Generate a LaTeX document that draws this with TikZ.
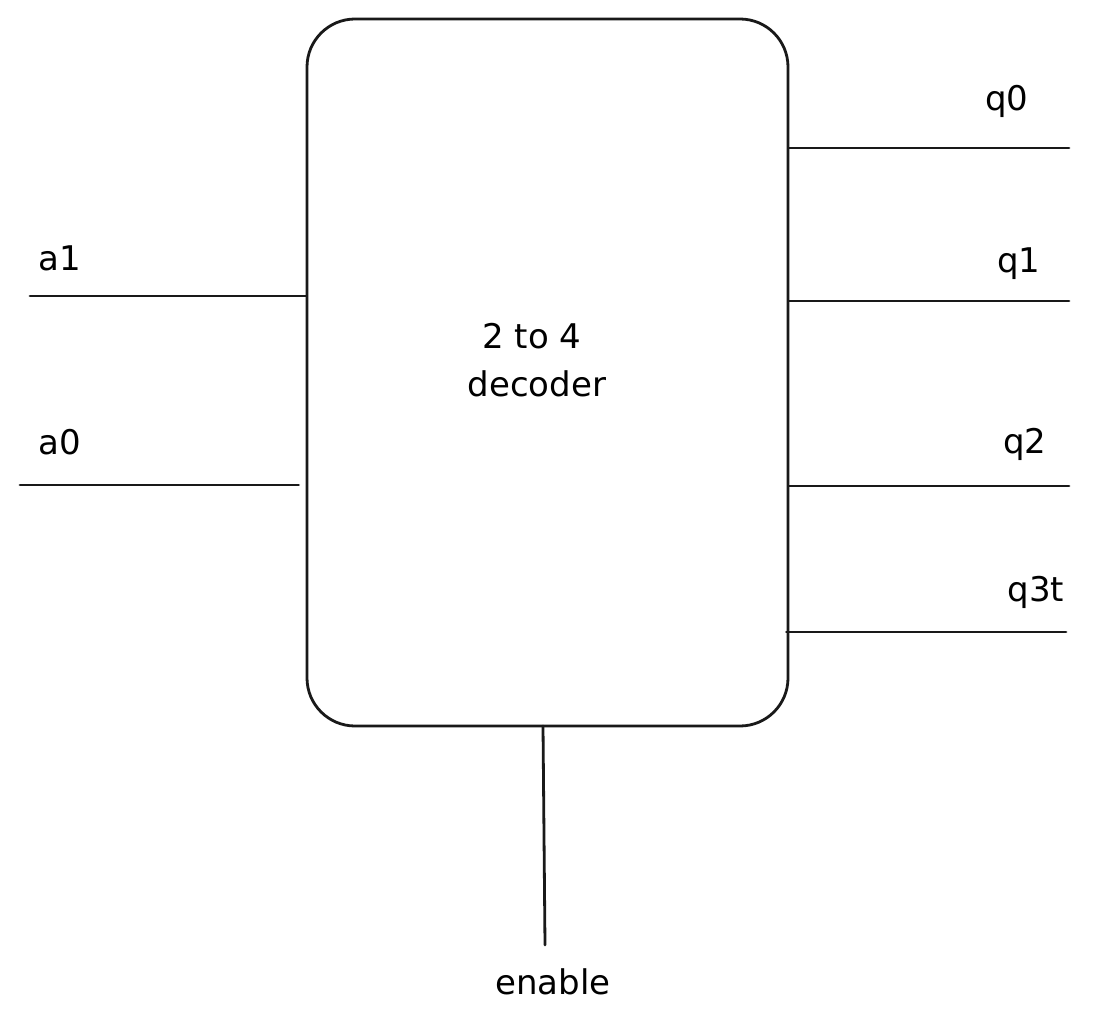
\documentclass[tikz,border=0pt]{standalone}
\usepackage{fontspec}
\setmainfont{DejaVu Sans}
\begin{document}
\begin{tikzpicture}[x=1pt,y=-1pt,
  wire/.style={line width=2.8pt, line cap=round, black!90},
  lbl/.style={font=\fontsize{34}{40}\selectfont, inner sep=0pt},
  box/.style={draw, black!90, line width=2.8pt, rounded corners=48pt, minimum width=481pt, minimum height=707pt, inner sep=0pt}]
\useasboundingbox[fill=white] (0,0) rectangle (1094,1024);
\node[box] (dec) at (547.5,372.5) {};
\node[lbl] (t1) at (532,336) {2 to 4};
\node[lbl] (t2) at (537,384) {decoder};
% free ends
\coordinate (q0e) at (1069,148);
\coordinate (q1e) at (1069,301);
\coordinate (q2e) at (1069,486);
\coordinate (q3e) at (1066,632);
\coordinate (a1e) at (30,296);
\coordinate (a0e) at (20,485);
\coordinate (ene) at (545,945);
\coordinate (enb) at (543,726);
% wires
\draw[wire] (dec.east |- q0e) -- (q0e);
\draw[wire] (dec.east |- q1e) -- (q1e);
\draw[wire] (dec.east |- q2e) -- (q2e);
\draw[wire] ([xshift=-3pt]dec.east |- q3e) -- (q3e);
\draw[wire] (a1e) -- (dec.west |- a1e);
\draw[wire] (a0e) -- ([xshift=-7pt]dec.west |- a0e);
\draw[wire] (enb) -- (ene);
% labels
\node[lbl] (lq0) at (1007,101) {q0};
\node[lbl] (lq1) at (1019,264) {q1};
\node[lbl] (lq2) at (1025,444) {q2};
\node[lbl] (lq3) at (1036,592) {q3t};
\node[lbl] (la1) at (60,258) {a1};
\node[lbl] (la0) at (60,442) {a0};
\node[lbl] (len) at (553,982) {enable};
\end{tikzpicture}
\end{document}
